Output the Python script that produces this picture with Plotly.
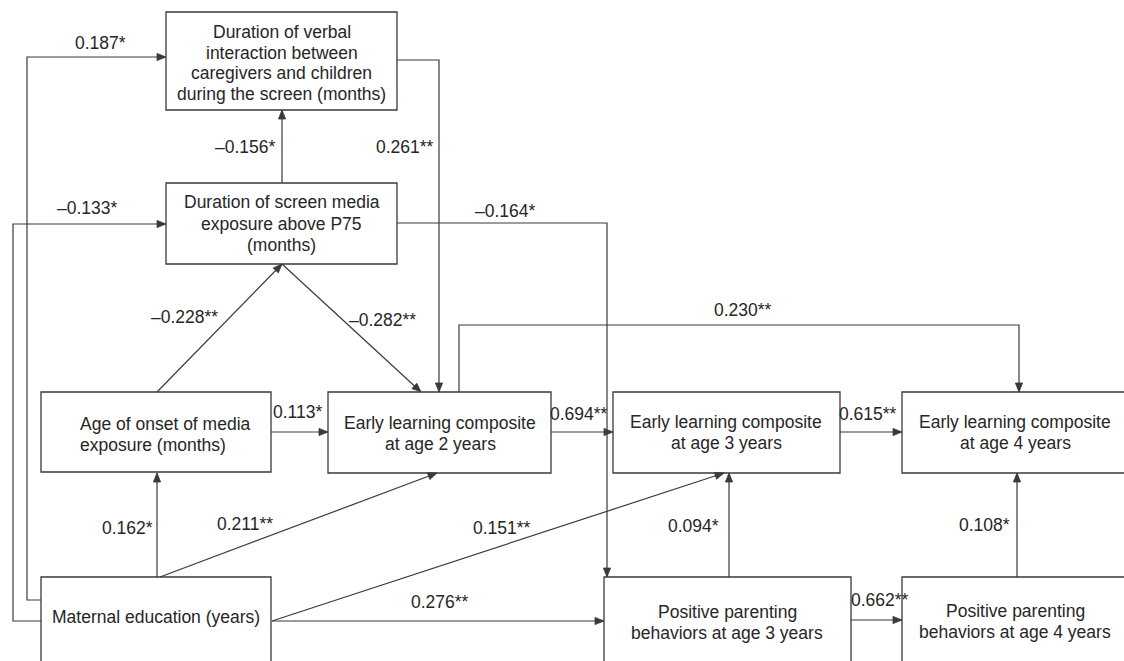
import math
import plotly.graph_objects as go

W, H = 1124, 661

# ---- model variables: box text, one entry per line ----
node_ids = ["verbal", "screen", "onset", "el2", "el3", "el4", "mated", "pp3", "pp4"]
node_lines = [
    ["Duration of verbal", "interaction between", "caregivers and children", "during the screen (months)"],
    ["Duration of screen media", "exposure above P75", "(months)"],
    ["Age of onset of media", "exposure (months)"],
    ["Early learning composite", "at age 2 years"],
    ["Early learning composite", "at age 3 years"],
    ["Early learning composite", "at age 4 years"],
    ["Maternal education (years)"],
    ["Positive parenting", "behaviors at age 3 years"],
    ["Positive parenting", "behaviors at age 4 years"],
]

# ---- standardized path coefficients (from -> to) ----
path_from = ["mated", "mated", "screen", "verbal", "screen", "onset", "screen", "onset",
             "el2", "el3", "el2", "mated", "mated", "mated", "mated", "pp3", "pp4", "pp3"]
path_to = ["verbal", "screen", "verbal", "el2", "pp3", "screen", "el2", "el2",
           "el3", "el4", "el4", "onset", "el2", "el3", "pp3", "el3", "el4", "pp4"]
path_coef = ["0.187*", "–0.133*", "–0.156*", "0.261**", "–0.164*", "–0.228**", "–0.282**", "0.113*",
             "0.694**", "0.615**", "0.230**", "0.162*", "0.211**", "0.151**", "0.276**", "0.094*",
             "0.108*", "0.662**"]

# ---- diagram geometry (pixel space, y grows downward) ----
box_rect = {  # x0, y0, x1, y1
    "verbal": (166, 12, 397, 110),
    "screen": (166, 183, 397, 264),
    "onset": (41, 392, 271, 472),
    "el2": (328, 392, 551, 473),
    "el3": (613, 392, 840, 473),
    "el4": (902, 392, 1140, 473),
    "mated": (41, 577, 271, 680),
    "pp3": (604, 577, 851, 680),
    "pp4": (902, 577, 1140, 680),
}
text_pos = {  # anchor x, first line y, line step, alignment
    "verbal": (281.5, 32, 20.5, "center"),
    "screen": (281.5, 202, 21.5, "center"),
    "onset": (78, 424, 20.5, "left"),
    "el2": (440, 423, 20.5, "center"),
    "el3": (726, 422, 20.5, "center"),
    "el4": (1015, 422, 20.5, "center"),
    "mated": (156, 617, 20.5, "center"),
    "pp3": (727, 612, 20.5, "center"),
    "pp4": (1015, 611, 20.5, "center"),
}
# polyline route of each path (last point is the arrow tip) and label position
routes = [
    [(41, 600), (27, 600), (27, 57), (166, 57)],
    [(41, 621), (13, 621), (13, 224), (166, 224)],
    [(282, 183), (282, 110)],
    [(397, 60), (439, 60), (439, 392)],
    [(397, 223), (607, 223), (607, 577)],
    [(157, 392), (282, 264)],
    [(282, 264), (421, 392)],
    [(271, 432), (328, 432)],
    [(551, 432), (613, 432)],
    [(840, 432), (902, 432)],
    [(459, 392), (459, 325), (1019, 325), (1019, 392)],
    [(157, 577), (157, 473)],
    [(160, 577), (437, 473)],
    [(272, 621), (724, 473)],
    [(272, 621), (604, 621)],
    [(729, 577), (729, 473)],
    [(1017, 577), (1017, 473)],
    [(851, 620), (902, 620)],
]
label_pos = [
    (100, 43), (87, 208), (245, 147), (405, 147), (505, 211), (184, 317), (382, 320), (297, 412),
    (579, 414), (868, 414), (743, 310), (127, 528), (245, 524), (502, 528), (440, 602), (693, 526),
    (984, 525), (880, 600),
]

LINE = "#3a3a3a"
TEXT = "#262626"
FONT = "Liberation Sans, Arial, Helvetica, sans-serif"
FS = 17.5
HEAD_LEN, HEAD_HALF = 9, 3.6

shapes = []
annotations = []

# boxes
for nid in node_ids:
    x0, y0, x1, y1 = box_rect[nid]
    shapes.append(dict(type="rect", xref="x", yref="y", x0=x0, y0=y0, x1=x1, y1=y1,
                       line=dict(color=LINE, width=1.3), fillcolor="rgba(0,0,0,0)", layer="above"))

# box text
for nid, lines in zip(node_ids, node_lines):
    ax, ay, step, align = text_pos[nid]
    for i, ln in enumerate(lines):
        annotations.append(dict(x=ax, y=ay + i * step, xref="x", yref="y", text=ln, showarrow=False,
                                xanchor="left" if align == "left" else "center", yanchor="middle",
                                font=dict(family=FONT, size=FS, color=TEXT)))

# paths with arrowheads and coefficient labels
for coef, route, (lx, ly) in zip(path_coef, routes, label_pos):
    d = "M " + " L ".join(f"{x},{y}" for x, y in route)
    shapes.append(dict(type="path", xref="x", yref="y", path=d,
                       line=dict(color=LINE, width=1.2), layer="above"))
    (px, py), (tx, ty) = route[-2], route[-1]
    L = math.hypot(tx - px, ty - py)
    ux, uy = (tx - px) / L, (ty - py) / L
    bx, by = tx - HEAD_LEN * ux, ty - HEAD_LEN * uy
    nx, ny = -uy, ux
    tri = (f"M {tx},{ty} L {bx + HEAD_HALF * nx},{by + HEAD_HALF * ny} "
           f"L {bx - HEAD_HALF * nx},{by - HEAD_HALF * ny} Z")
    shapes.append(dict(type="path", xref="x", yref="y", path=tri, fillcolor=LINE,
                       line=dict(color=LINE, width=0.8), layer="above"))
    annotations.append(dict(x=lx, y=ly, xref="x", yref="y", text=coef, showarrow=False,
                            xanchor="center", yanchor="middle",
                            font=dict(family=FONT, size=FS, color=TEXT)))

fig = go.Figure()
fig.update_layout(
    width=W, height=H, margin=dict(l=0, r=0, t=0, b=0),
    paper_bgcolor="white", plot_bgcolor="white", showlegend=False,
    xaxis=dict(range=[0, W], visible=False, fixedrange=True),
    yaxis=dict(range=[H, 0], visible=False, fixedrange=True),
    shapes=shapes, annotations=annotations, hovermode=False,
)
fig.write_html("out.html", config={"displayModeBar": False})
